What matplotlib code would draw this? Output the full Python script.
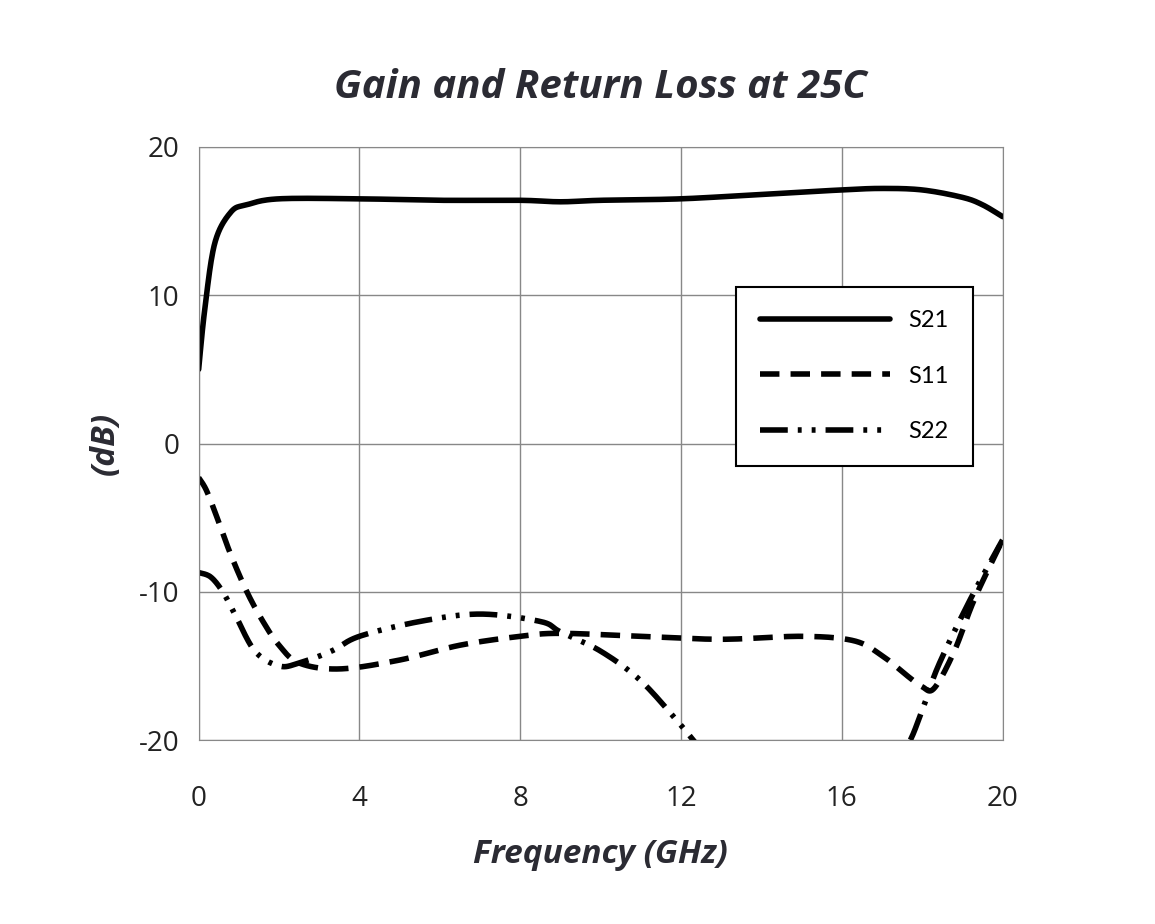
import numpy as np
import matplotlib
matplotlib.use("Agg")
import matplotlib.pyplot as plt

plt.rcParams["axes.unicode_minus"] = False

s21_f = [0, 0.15, 0.4, 0.8, 1.2, 2, 4, 6, 8, 9, 10, 12, 14, 16, 17, 18, 19, 19.5, 20]
s21_v = [5.0, 9.0, 13.5, 15.6, 16.1, 16.5, 16.5, 16.4, 16.4, 16.3, 16.4, 16.5, 16.8, 17.1, 17.2, 17.1, 16.6, 16.1, 15.3]

s11_f = [0, 0.2, 0.5, 0.8, 1.2, 1.6, 2, 2.5, 3.5, 5, 6.5, 8, 9, 11, 13, 15, 16.3, 17, 17.6, 18, 18.3, 18.8, 19.3, 20]
s11_v = [-2.3, -3.2, -5.3, -7.5, -10, -12, -13.6, -14.8, -15.2, -14.6, -13.6, -13.0, -12.8, -13.0, -13.2, -13.0, -13.3, -14.3, -15.6, -16.4, -16.5, -14.0, -10.5, -6.5]

s22_f = [0, 0.3, 0.6, 0.9, 1.4, 2, 2.5, 3.3, 4, 5.5, 7, 8.5, 9, 10, 11, 12, 12.4, 13, 15, 17, 17.6, 18, 18.4, 19.2, 20]
s22_v = [-8.7, -9.0, -10.0, -11.5, -14.0, -15.0, -14.8, -14.0, -13.0, -12.0, -11.5, -12.0, -12.7, -14.0, -16.0, -19.0, -20.3, -22, -24, -22, -20.5, -18.0, -15.0, -10.5, -6.5]

x_ticks = [0, 4, 8, 12, 16, 20]
y_ticks = [-20, -10, 0, 10, 20]

def smooth(f, v, n=20):
    f = np.asarray(f, float); v = np.asarray(v, float)
    P = np.column_stack([f, v])
    P = np.vstack([P[0], P, P[-1]])
    out = []
    t = np.linspace(0, 1, n, endpoint=False)[:, None]
    for i in range(1, len(P) - 2):
        p0, p1, p2, p3 = P[i-1], P[i], P[i+1], P[i+2]
        c = 0.5 * ((2*p1) + (-p0 + p2)*t + (2*p0 - 5*p1 + 4*p2 - p3)*t**2 + (-p0 + 3*p1 - 3*p2 + p3)*t**3)
        out.append(c)
    out.append(P[-2][None, :])
    out = np.vstack(out)
    return out[:, 0], out[:, 1]

fig = plt.figure(figsize=(11.55, 9.24), dpi=100)
ax = fig.add_axes([0.172, 0.199, 0.696, 0.642])
lw = 4.0
ax.plot(*smooth(s21_f, s21_v), color="black", lw=lw, label="S21", solid_capstyle="round")
ax.plot(*smooth(s11_f, s11_v), color="black", lw=lw, ls=(0, (3.5, 2)), label="S11")
ax.plot(*smooth(s22_f, s22_v), color="black", lw=lw, ls=(0, (5, 1.8, 0.7, 1.8, 0.7, 1.8)), label="S22")
ax.set_xlim(0, 20)
ax.set_ylim(-20, 20)
ax.set_xticks(x_ticks)
ax.set_yticks(y_ticks)
ax.grid(True, color="#888888", lw=1)
for s in ax.spines.values():
    s.set_color("#888888")
ax.tick_params(axis="y", length=0, pad=14, labelsize=20, colors="#222222")
ax.tick_params(axis="x", length=0, pad=32, labelsize=20, colors="#222222")
for t in ax.get_xticklabels() + ax.get_yticklabels():
    t.set_fontfamily("Open Sans")
ax.set_xlabel("Frequency (GHz)", fontsize=24, fontweight="bold", style="italic", color="#2b2b33", labelpad=18, family="Open Sans")
ax.set_ylabel("(dB)", fontsize=24, fontweight="bold", style="italic", color="#2b2b33", labelpad=12, family="Open Sans")
ax.set_title("Gain and Return Loss at 25C", fontsize=29, fontweight="bold", style="italic", color="#2b2b33", pad=35, family="Open Sans")
leg = ax.legend(loc="upper left", bbox_to_anchor=(0.654, 0.784), frameon=True, fancybox=False,
                handlelength=5.5, labelspacing=1.45, borderpad=1.0, handletextpad=0.8, edgecolor="black",
                prop={"family": "Lato", "size": 17})
leg.get_frame().set_linewidth(1.5)
leg.get_frame().set_alpha(1)
fig.savefig("out.png")
